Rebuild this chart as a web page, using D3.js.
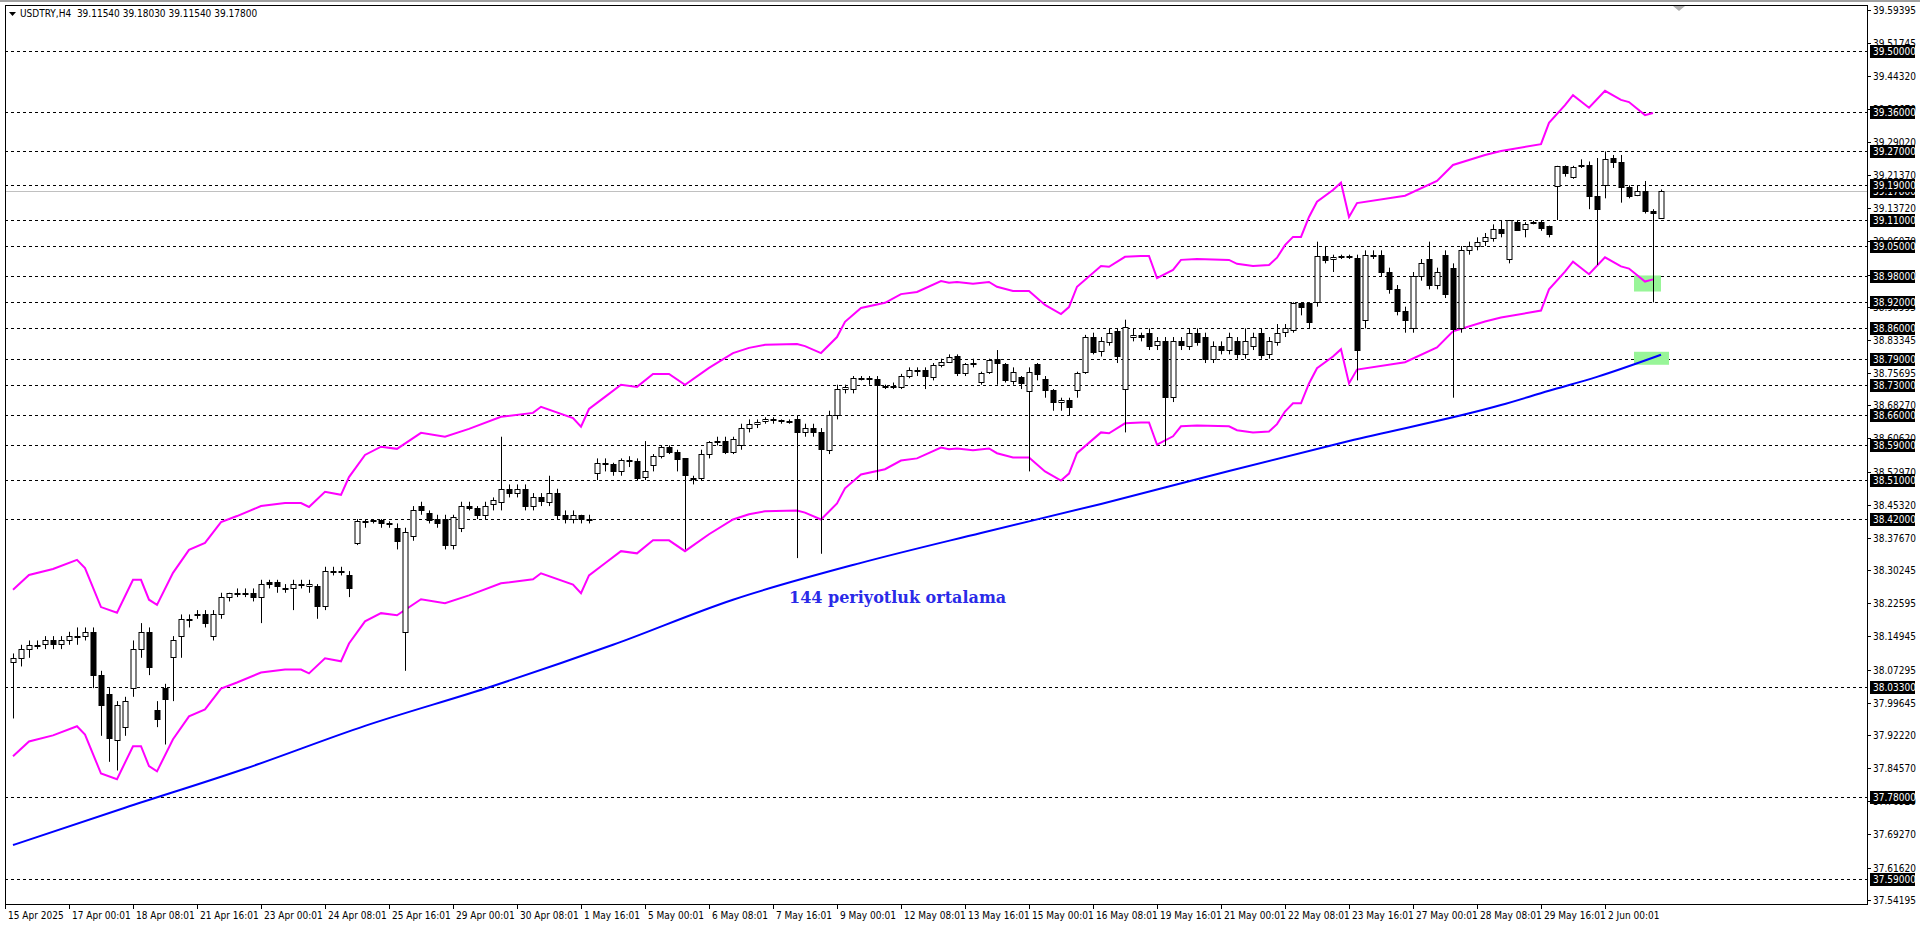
<!DOCTYPE html>
<html><head><meta charset="utf-8">
<script src="https://cdn.jsdelivr.net/npm/d3@7"></script>
<style>html,body{margin:0;padding:0;background:#fff;overflow:hidden}</style>
</head><body>
<svg id="c" width="1920" height="927"></svg>
<script>
// ---------- DATA ----------
const open = [
38.09,38.10,38.12,38.13,38.13,38.14,38.13,38.14,38.15,38.15,
38.16,38.06,38.017,37.91,37.94,38.03,38.12,38.16,37.98,38.03,
38.10,38.15,38.19,38.20,38.20,38.15,38.20,38.24,38.25,38.25,
38.25,38.24,38.275,38.275,38.26,38.26,38.27,38.265,38.265,38.22,
38.30,38.30,38.29,38.366,38.416,38.416,38.417,38.41,38.40,38.16,
38.38,38.45,38.435,38.42,38.42,38.36,38.40,38.45,38.445,38.43,
38.455,38.46,38.49,38.48,38.49,38.45,38.47,38.46,38.48,38.43,
38.42,38.43,38.42,38.527,38.55,38.546,38.532,38.555,38.555,38.516,
38.545,38.566,38.587,38.575,38.56,38.515,38.515,38.57,38.598,38.60,
38.575,38.59,38.63,38.64,38.645,38.65,38.648,38.646,38.65,38.62,
38.63,38.62,38.58,38.66,38.72,38.72,38.745,38.745,38.743,38.725,
38.728,38.725,38.75,38.763,38.763,38.748,38.775,38.783,38.797,38.757,
38.778,38.736,38.76,38.79,38.777,38.74,38.748,38.717,38.777,38.743,
38.717,38.69,38.695,38.717,38.76,38.84,38.806,38.83,38.853,38.72,
38.84,38.845,38.85,38.82,38.83,38.70,38.83,38.82,38.85,38.84,
38.79,38.82,38.81,38.83,38.80,38.82,38.85,38.80,38.83,38.85,
38.857,38.919,38.919,38.92,39.027,39.02,39.025,39.027,39.022,38.88,
39.03,39.03,38.99,38.95,38.90,38.86,38.98,39.02,38.96,39.03,
39.00,38.86,39.04,39.05,39.06,39.07,39.09,39.02,39.106,39.088,
39.105,39.106,39.095,39.19,39.235,39.21,39.235,39.238,39.166,39.19,
39.253,39.243,39.186,39.166,39.176,39.13,39.1154];
const close = [
38.10,38.12,38.13,38.13,38.14,38.13,38.14,38.15,38.15,38.16,
38.06,37.99,37.915,37.99,38.00,38.12,38.16,38.08,37.96,38.005,
38.14,38.19,38.19,38.20,38.18,38.20,38.24,38.25,38.25,38.25,
38.24,38.27,38.27,38.265,38.26,38.27,38.27,38.27,38.22,38.30,
38.30,38.30,38.26,38.416,38.416,38.417,38.41,38.41,38.37,38.39,
38.44,38.44,38.42,38.41,38.36,38.425,38.45,38.445,38.43,38.45,
38.465,38.49,38.48,38.49,38.45,38.47,38.46,38.48,38.43,38.42,
38.43,38.42,38.42,38.55,38.548,38.53,38.557,38.557,38.515,38.53,
38.566,38.587,38.575,38.56,38.52,38.513,38.57,38.598,38.60,38.575,
38.605,38.63,38.64,38.645,38.65,38.648,38.646,38.645,38.62,38.63,
38.62,38.58,38.66,38.72,38.725,38.745,38.745,38.743,38.73,38.728,
38.728,38.75,38.763,38.76,38.75,38.775,38.783,38.795,38.757,38.778,
38.78,38.757,38.788,38.78,38.74,38.76,38.734,38.76,38.753,38.717,
38.69,38.695,38.68,38.757,38.84,38.806,38.83,38.85,38.795,38.863,
38.845,38.84,38.82,38.83,38.70,38.83,38.82,38.85,38.83,38.79,
38.82,38.81,38.84,38.80,38.83,38.84,38.80,38.83,38.85,38.86,
38.919,38.91,38.875,39.027,39.017,39.025,39.026,39.027,38.81,39.03,
39.03,38.99,38.95,38.90,38.88,38.98,39.01,38.96,38.99,38.94,
38.86,39.04,39.05,39.06,39.07,39.09,39.08,39.11,39.088,39.10,
39.106,39.093,39.076,39.235,39.218,39.232,39.237,39.166,39.135,39.25,
39.243,39.186,39.166,39.176,39.13,39.126,39.178];
const high = [
38.11,38.13,38.14,38.14,38.15,38.15,38.15,38.16,38.17,38.17,
38.17,38.07,38.03,38.00,38.01,38.14,38.18,38.17,38.00,38.04,
38.15,38.20,38.20,38.21,38.21,38.21,38.25,38.25,38.26,38.26,
38.26,38.28,38.28,38.28,38.27,38.28,38.28,38.28,38.27,38.31,
38.31,38.31,38.30,38.42,38.42,38.42,38.42,38.415,38.41,38.40,
38.45,38.46,38.44,38.43,38.43,38.43,38.46,38.46,38.45,38.46,
38.47,38.61,38.50,38.50,38.50,38.48,38.48,38.52,38.49,38.44,
38.44,38.43,38.43,38.56,38.56,38.55,38.56,38.565,38.56,38.60,
38.57,38.59,38.59,38.58,38.56,38.52,38.58,38.60,38.61,38.61,
38.61,38.64,38.65,38.65,38.655,38.655,38.65,38.65,38.66,38.64,
38.64,38.63,38.67,38.73,38.73,38.75,38.75,38.75,38.75,38.73,
38.735,38.755,38.77,38.77,38.77,38.78,38.79,38.80,38.80,38.78,
38.79,38.76,38.79,38.81,38.78,38.77,38.75,38.77,38.78,38.75,
38.72,38.70,38.70,38.76,38.845,38.85,38.84,38.86,38.86,38.88,
38.86,38.85,38.86,38.84,38.84,38.84,38.84,38.86,38.86,38.85,
38.83,38.83,38.85,38.84,38.86,38.85,38.86,38.84,38.87,38.87,
38.92,38.92,38.92,39.06,39.05,39.03,39.03,39.03,39.03,39.04,
39.04,39.04,39.00,38.96,38.91,38.99,39.02,39.06,39.00,39.04,
39.01,39.05,39.06,39.07,39.08,39.10,39.11,39.11,39.11,39.105,
39.108,39.108,39.097,39.235,39.236,39.235,39.25,39.245,39.253,39.268,
39.26,39.26,39.19,39.19,39.20,39.135,39.1803];
const low = [
37.96,38.08,38.10,38.12,38.12,38.12,38.12,38.13,38.13,38.14,
38.03,37.92,37.86,37.84,37.92,38.01,38.10,38.06,37.94,37.90,
38.00,38.10,38.17,38.19,38.17,38.14,38.19,38.23,38.24,38.24,
38.23,38.18,38.26,38.25,38.25,38.21,38.26,38.25,38.19,38.21,
38.29,38.29,38.24,38.36,38.40,38.41,38.40,38.40,38.35,38.07,
38.37,38.43,38.41,38.40,38.35,38.35,38.39,38.44,38.42,38.42,
38.44,38.44,38.47,38.47,38.44,38.44,38.45,38.45,38.42,38.41,
38.41,38.41,38.41,38.51,38.53,38.52,38.52,38.54,38.51,38.51,
38.53,38.56,38.57,38.53,38.35,38.50,38.51,38.56,38.59,38.57,
38.57,38.58,38.62,38.63,38.64,38.64,38.64,38.64,38.33,38.61,
38.61,38.34,38.57,38.65,38.71,38.71,38.74,38.73,38.51,38.72,
38.72,38.72,38.745,38.75,38.72,38.74,38.77,38.78,38.75,38.75,
38.77,38.73,38.755,38.73,38.735,38.73,38.72,38.53,38.74,38.70,
38.67,38.67,38.66,38.70,38.755,38.80,38.795,38.82,38.78,38.62,
38.83,38.83,38.81,38.81,38.59,38.69,38.81,38.81,38.82,38.78,
38.78,38.80,38.80,38.79,38.79,38.81,38.79,38.79,38.82,38.84,
38.85,38.89,38.86,38.91,39.01,38.99,39.02,39.02,38.74,38.86,
39.02,38.98,38.94,38.89,38.85,38.85,38.97,38.95,38.95,38.93,
38.70,38.85,39.03,39.04,39.05,39.06,39.07,39.01,39.085,39.07,
39.10,39.085,39.07,39.11,39.21,39.205,39.23,39.135,39.006,39.16,
39.23,39.15,39.16,39.165,39.125,38.92,39.1154];

const maIdx = [0,14,29,44,60,75,90,106,121,136,152,167,186,192,198,206];
const maVal = [37.668,37.754,37.844,37.943,38.035,38.130,38.234,38.319,38.388,38.455,38.531,38.600,38.683,38.716,38.748,38.799];

const envIdx = [0,2,5,8,9,11,13,15,16,17,18,20,22,24,26,28,31,34,36,37,39,41,42,44,46,48,51,54,57,61,65,66,70,71,72,74,76,78,80,82,84,87,90,92,94,98,99,101,103,104,106,109,111,113,116,117,118,120,122,123,125,127,129,131,132,133,136,137,139,141,142,143,145,146,148,152,153,155,157,158,159,160,161,162,163,165,166,167,168,174,178,180,184,186,191,192,194,195,197,199,201,202,204,205];
const envUpper = [38.257,38.291,38.305,38.326,38.307,38.217,38.204,38.280,38.280,38.234,38.222,38.296,38.349,38.365,38.413,38.427,38.450,38.457,38.457,38.448,38.483,38.476,38.517,38.568,38.587,38.582,38.619,38.610,38.628,38.656,38.665,38.679,38.653,38.633,38.674,38.702,38.730,38.725,38.755,38.755,38.730,38.769,38.803,38.815,38.822,38.824,38.819,38.803,38.840,38.875,38.907,38.919,38.939,38.944,38.969,38.965,38.967,38.963,38.967,38.956,38.946,38.946,38.914,38.893,38.909,38.956,39.004,39.002,39.025,39.027,39.027,38.976,38.995,39.018,39.020,39.018,39.009,39.004,39.006,39.023,39.052,39.071,39.071,39.117,39.152,39.179,39.196,39.117,39.149,39.166,39.200,39.237,39.260,39.269,39.285,39.334,39.375,39.398,39.369,39.408,39.387,39.382,39.352,39.357];
const envLower = [37.873,37.907,37.921,37.942,37.923,37.833,37.820,37.896,37.896,37.850,37.838,37.912,37.965,37.981,38.029,38.043,38.066,38.073,38.073,38.064,38.099,38.092,38.133,38.184,38.203,38.198,38.235,38.226,38.244,38.272,38.281,38.295,38.269,38.249,38.290,38.318,38.346,38.341,38.371,38.371,38.346,38.385,38.419,38.431,38.438,38.440,38.435,38.419,38.456,38.491,38.523,38.535,38.555,38.560,38.585,38.581,38.583,38.579,38.583,38.572,38.562,38.562,38.530,38.509,38.525,38.572,38.620,38.618,38.641,38.643,38.643,38.592,38.611,38.634,38.636,38.634,38.625,38.620,38.622,38.639,38.668,38.687,38.687,38.733,38.768,38.795,38.812,38.733,38.765,38.782,38.816,38.853,38.876,38.885,38.901,38.950,38.991,39.014,38.985,39.024,39.003,38.998,38.968,38.973];

const levels = [39.50,39.36,39.27,39.19,39.11,39.05,38.98,38.92,38.86,38.79,38.73,38.66,38.59,38.51,38.42,38.033,37.78,37.59];
const currentPrice = 39.178;
const priceTicks = [39.59395,39.51745,39.44320,39.36670,39.29020,39.21370,39.13720,39.06070,38.98420,38.90995,38.83345,38.75695,38.68270,38.60620,38.52970,38.45320,38.37670,38.30245,38.22595,38.14945,38.07295,37.99645,37.92220,37.84570,37.76920,37.69270,37.61620,37.54195];
const timeIdx = [-1,7,15,23,31,39,47,55,63,71,79,87,95,103,111,119,127,135,143,151,159,167,175,183,191,199];
const timeLabels = ["15 Apr 2025","17 Apr 00:01","18 Apr 08:01","21 Apr 16:01","23 Apr 00:01","24 Apr 08:01","25 Apr 16:01","29 Apr 00:01","30 Apr 08:01","1 May 16:01","5 May 00:01","6 May 08:01","7 May 16:01","9 May 00:01","12 May 08:01","13 May 16:01","15 May 00:01","16 May 08:01","19 May 16:01","21 May 00:01","22 May 08:01","23 May 16:01","27 May 00:01","28 May 08:01","29 May 16:01","2 Jun 00:01"];
const headerText = "USDTRY,H4  39.11540 39.18030 39.11540 39.17800";
const noteText = "144 periyotluk ortalama";
const highlights = [{i0:203,i1:206,p0:38.982,p1:38.945},{i0:203,i1:207,p0:38.806,p1:38.776}];

// ---------- DRAW ----------
const L=5,R=1867,T=5,B=904;
const svg=d3.select("#c");
const x=d3.scaleLinear().domain([0,206]).range([13,1661]);
const y=d3.scaleLinear().domain([37.532,39.606]).range([B,T]);
const font="'DejaVu Sans Condensed','Liberation Sans',sans-serif";
const fs=10;

svg.append("rect").attr("x",0).attr("y",0).attr("width",1920).attr("height",927).attr("fill","#fff");
svg.append("rect").attr("x",0).attr("y",0).attr("width",1920).attr("height",2).attr("fill","#a0a0a0");

const plot=svg.append("g");
plot.append("clipPath").attr("id","clp").append("rect").attr("x",L).attr("y",T).attr("width",R-L).attr("height",B-T);
const g=plot.append("g").attr("clip-path","url(#clp)");

g.selectAll(".lv").data(levels).enter().append("line")
 .attr("x1",L).attr("x2",R).attr("y1",d=>Math.round(y(d))+0.5).attr("y2",d=>Math.round(y(d))+0.5)
 .attr("stroke","#000").attr("stroke-width",1).attr("stroke-dasharray","3,3");
g.append("line").attr("x1",L).attr("x2",R).attr("y1",Math.round(y(currentPrice))+0.5).attr("y2",Math.round(y(currentPrice))+0.5)
 .attr("stroke","#c0c0c0").attr("stroke-width",1);

g.selectAll(".hl").data(highlights).enter().append("rect")
 .attr("x",d=>x(d.i0)-3).attr("width",d=>x(d.i1)-x(d.i0)+3)
 .attr("y",d=>y(d.p0)).attr("height",d=>y(d.p1)-y(d.p0)).attr("fill","#98f598");

const line=d3.line().x(d=>x(d[0])).y(d=>y(d[1]));
g.append("path").attr("d",line(d3.zip(envIdx,envUpper))).attr("fill","none").attr("stroke","#ff00ff").attr("stroke-width",2);
g.append("path").attr("d",line(d3.zip(envIdx,envLower))).attr("fill","none").attr("stroke","#ff00ff").attr("stroke-width",2);
g.append("path").attr("d",d3.line().curve(d3.curveMonotoneX).x(d=>x(d[0])).y(d=>y(d[1]))(d3.zip(maIdx,maVal))).attr("fill","none").attr("stroke","#0000ff").attr("stroke-width",2);

const idx=d3.range(open.length);
const cg=g.append("g");
cg.selectAll(".w").data(idx).enter().append("line")
 .attr("x1",i=>Math.round(x(i))+0.5).attr("x2",i=>Math.round(x(i))+0.5)
 .attr("y1",i=>y(high[i])).attr("y2",i=>y(low[i])).attr("stroke","#000").attr("stroke-width",1);
cg.selectAll(".b").data(idx).enter().append("rect")
 .attr("x",i=>Math.round(x(i))-2).attr("width",5)
 .attr("y",i=>Math.round(y(Math.max(open[i],close[i])))+0.5)
 .attr("height",i=>Math.max(1,Math.round(Math.abs(y(open[i])-y(close[i])))))
 .attr("fill",i=>close[i]>=open[i]?"#fff":"#000").attr("stroke","#000").attr("stroke-width",1);

svg.append("text").attr("x",x(97)).attr("y",y(38.227)).text(noteText)
 .attr("font-family","'DejaVu Serif','Liberation Serif',serif").attr("font-weight","bold").attr("font-size",16).attr("fill","#2a2ae8");

svg.append("rect").attr("x",L+0.5).attr("y",T+0.5).attr("width",R-L).attr("height",B-T).attr("fill","none").attr("stroke","#000");
svg.append("path").attr("d","M1673,6 L1685,6 L1679,11 Z").attr("fill","#b0b0b0");

svg.append("path").attr("d","M9,12 L16,12 L12.5,16 Z").attr("fill","#000");
svg.append("text").attr("x",20).attr("y",17).text(headerText).attr("font-family",font).attr("font-size",fs).attr("fill","#000").attr("xml:space","preserve");

const ay=svg.append("g");
ay.selectAll(".pt").data(priceTicks).enter().append("line")
 .attr("x1",R).attr("x2",R+4).attr("y1",d=>Math.round(y(d))+0.5).attr("y2",d=>Math.round(y(d))+0.5).attr("stroke","#000");
ay.selectAll(".ptl").data(priceTicks).enter().append("text")
 .attr("x",R+6).attr("y",d=>y(d)+4).text(d=>d.toFixed(5)).attr("font-family",font).attr("font-size",fs).attr("fill","#000");
const lvAll=[currentPrice].concat(levels);
const lb=ay.selectAll(".lb").data(lvAll).enter().append("g");
lb.append("rect").attr("x",R+3).attr("y",d=>Math.round(y(d))-6).attr("width",45).attr("height",13).attr("fill","#000");
lb.append("text").attr("x",R+6).attr("y",d=>Math.round(y(d))+4).text(d=>d.toFixed(5))
 .attr("font-family",font).attr("font-size",fs).attr("fill","#fff");

const ax=svg.append("g");
ax.selectAll(".tt").data(timeIdx).enter().append("line")
 .attr("x1",i=>i<0?L+0.5:Math.round(x(i))+0.5).attr("x2",i=>i<0?L+0.5:Math.round(x(i))+0.5)
 .attr("y1",B).attr("y2",B+5).attr("stroke","#000");
ax.selectAll(".tl").data(timeIdx).enter().append("text")
 .attr("x",i=>(i<0?L:Math.round(x(i)))+3).attr("y",B+15).text((d,k)=>timeLabels[k])
 .attr("font-family",font).attr("font-size",fs).attr("fill","#000");
</script>
</body></html>
